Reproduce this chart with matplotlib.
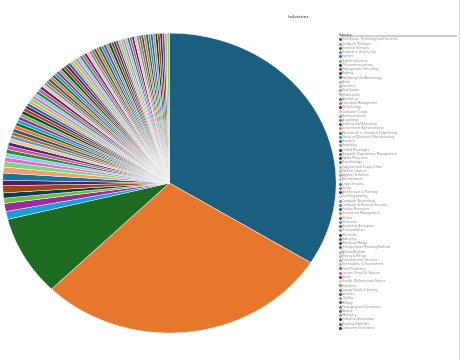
import matplotlib.pyplot as plt
from matplotlib.lines import Line2D
from matplotlib.patches import Rectangle

# industries shown in the pie (largest first)
industries = [
    "Information Technology and Services", "Computer Software", "Financial Services",
    "Hospital & Health Care", "Internet", "Higher Education", "Telecommunications",
    "Management Consulting", "Banking", "Marketing and Advertising", "Retail", "Insurance",
    "Real Estate", "Construction", "Automotive", "Education Management", "Oil & Energy",
    "Consumer Goods", "Pharmaceuticals", "Accounting", "Staffing and Recruiting",
    "Government Administration", "Mechanical or Industrial Engineering",
    "Electrical/Electronic Manufacturing", "Research", "Hospitality", "Food & Beverages",
    "Nonprofit Organization Management", "Media Production", "Biotechnology",
    "Logistics and Supply Chain", "Medical Devices", "Apparel & Fashion", "Entertainment",
    "Legal Services", "Design", "Architecture & Planning", "Civil Engineering",
    "Computer Networking", "Computer & Network Security", "Human Resources",
    "Investment Management", "Utilities", "Chemicals", "Aviation & Aerospace", "Semiconductors",
    "Wholesale", "Publishing", "Broadcast Media", "Transportation/Trucking/Railroad",
    "Airlines/Aviation", "Mining & Metals", "Environmental Services", "Renewables & Environment",
    "Food Production", "Leisure, Travel & Tourism", "Sports", "Health, Wellness and Fitness",
    "Cosmetics", "Luxury Goods & Jewelry", "Furniture", "Textiles", "Printing",
    "Packaging and Containers", "Plastics", "Machinery", "Industrial Automation",
    "Building Materials", "Consumer Electronics", "Computer Hardware", "Wireless",
    "Information Services", "Online Media", "Computer Games", "Music",
    "Motion Pictures and Film", "Performing Arts", "Fine Art", "Photography", "Graphic Design",
    "Public Relations and Communications", "Market Research", "Events Services",
    "Professional Training & Coaching", "E-Learning", "Primary/Secondary Education",
    "Libraries", "Museums and Institutions", "Government Relations", "Public Policy",
    "Law Enforcement", "Military",
]

counts = [1190, 1004, 302,
          30, 30, 20, 20, 27, 20, 27, 23, 20,
          16, 15, 15, 14, 14, 14, 13, 13, 13, 13,
          12, 12, 12, 12, 12, 12,
          11, 11, 11, 11, 11, 11, 11, 11, 11,
          10, 10, 10, 10, 10, 10, 10, 10, 10, 10, 10, 10, 10, 10, 10,
          9, 9, 9, 9, 9, 9, 9, 9, 9, 9, 9, 9, 9, 9, 9, 9,
          8, 8, 8, 8, 8, 8, 8, 8, 8, 8, 8, 8, 8, 8, 8, 8, 8, 8, 8, 8, 8, 8, 8, 8]

palette = ['#1b5e80', '#e8772e', '#1c6b21', '#1a9ed9', '#9a2b9f', '#6dbd45', '#0f3c4c',
           '#9c4a12', '#5a1a66', '#1c7394', '#f0a070', '#7bd97b', '#e070d0', '#8ac8ec',
           '#2c8c3c', '#d0509a', '#4a2a7a', '#f4c090', '#53a0c0', '#c06020']

n = min(len(industries), len(counts))
industries = industries[:n]
counts = counts[:n]
colors = [palette[i % len(palette)] for i in range(n)]

fig = plt.figure(figsize=(4.61, 3.60), dpi=100)
ax = fig.add_axes([0.006, 0.075, 0.723, 0.833])

wedges, _ = ax.pie(counts, colors=colors, startangle=90, counterclock=False, radius=1,
                   wedgeprops=dict(edgecolor='white', linewidth=0.3))
ax.set_aspect('auto')
ax.set_xlim(-1, 1)
ax.set_ylim(-1, 1)

fig.text(0.648, 0.952, "Industries", fontsize=3.2, ha='center', va='center', color='#333333')

# legend (only the entries that fit)
shown = 69
handles = [Line2D([], [], marker='o', linestyle='', markersize=1.1,
                  markerfacecolor=colors[i], markeredgecolor=colors[i]) for i in range(shown)]
leg = fig.legend(handles, industries[:shown], loc='upper left', bbox_to_anchor=(0.735, 0.908),
                 frameon=False, fontsize=2.2, labelspacing=0.08, handlelength=0.5,
                 handletextpad=0.5, borderaxespad=0, borderpad=0,
                 title="Industry", title_fontsize=2.4, alignment='left')
for t in leg.get_texts():
    t.set_color('#888888')
leg.get_title().set_color('#444444')

fig.add_artist(Rectangle((0.737, 0.898), 0.255, 0.005, transform=fig.transFigure,
                         facecolor='#cccccc', edgecolor='none', zorder=0))
fig.add_artist(Line2D([0.995, 0.995], [0, 1], transform=fig.transFigure,
                      color='#dddddd', linewidth=0.8))

fig.savefig("out.png", dpi=100)
